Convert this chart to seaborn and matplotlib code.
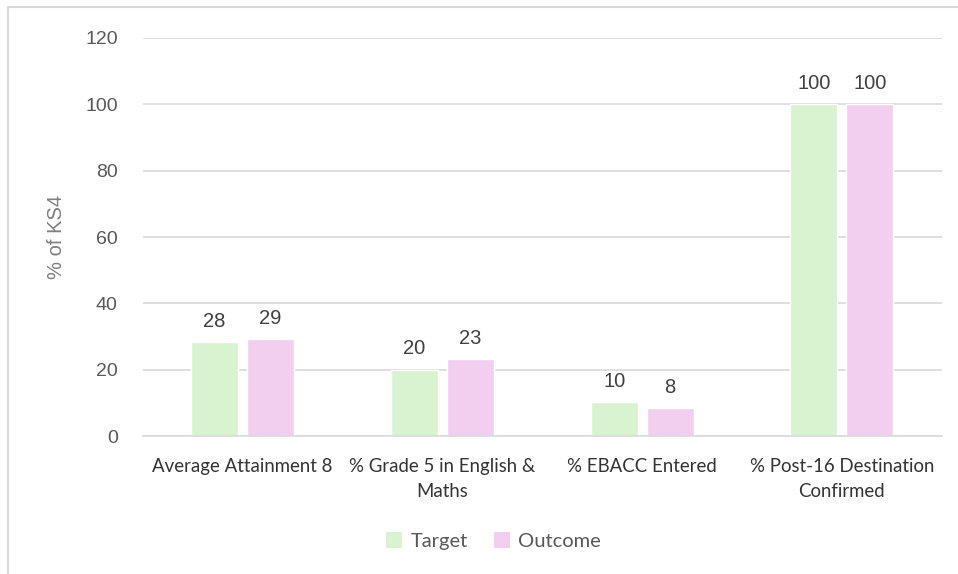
import matplotlib
matplotlib.use("Agg")
import matplotlib.pyplot as plt
import seaborn as sns
import pandas as pd
from matplotlib.lines import Line2D
from matplotlib.patches import Patch

categories = ["Average Attainment 8", "% Grade 5 in English &\nMaths",
              "% EBACC Entered", "% Post-16 Destination\nConfirmed"]
target = [28.4, 20.1, 10.2, 100]
outcome = [29.2, 23.2, 8.4, 100]
series = ["Target", "Outcome"]
colors = ["#D9F2D0", "#F2CEEF"]
yticks = [0, 20, 40, 60, 80, 100, 120]

df = pd.DataFrame({
    "category": categories * 2,
    "value": target + outcome,
    "series": [series[0]] * len(categories) + [series[1]] * len(categories),
})

sns.set_theme(style="white")
plt.rcParams["font.family"] = ["Liberation Sans", "DejaVu Sans"]

fig = plt.figure(figsize=(9.58, 5.74), dpi=100)
ax = fig.add_axes([0.149, 0.240, 0.834, 0.694])

sns.barplot(data=df, x="category", y="value", hue="series", order=categories,
            hue_order=series, palette=colors, width=0.56, gap=0.16,
            saturation=1, errorbar=None, ax=ax, legend=False)

ax.set_ylim(0, 120)
ax.set_yticks(yticks)
ax.set_yticklabels([str(t) for t in yticks], fontsize=14, color="#595959")
ax.yaxis.grid(True, color="#D9D9D9", linewidth=1.2)
ax.set_axisbelow(True)
for s in ["top", "right", "left"]:
    ax.spines[s].set_visible(False)
ax.spines["bottom"].set_color("#D9D9D9")
ax.spines["bottom"].set_linewidth(1.2)
ax.tick_params(axis="both", length=0)
ax.tick_params(axis="y", pad=18)
ax.tick_params(axis="x", pad=16)
ax.set_xlabel("")
ax.set_ylabel("% of KS4", fontsize=14.5, color="#7F7F7F", labelpad=14)
for lbl in ax.get_xticklabels():
    lbl.set_fontfamily(["Lato", "DejaVu Sans"])
    lbl.set_fontsize(13.4)
    lbl.set_color("#333333")
    lbl.set_linespacing(1.55)

for cont in ax.containers:
    ax.bar_label(cont, labels=[f"{v:.0f}" for v in cont.datavalues],
                 padding=8, fontsize=14.5, color="#404040")

handles = [Patch(facecolor=c, edgecolor="none") for c in colors]
fig.legend(handles, series, loc="center", bbox_to_anchor=(0.515, 0.057),
           ncol=2, frameon=False, handlelength=0.8, handleheight=0.8,
           handletextpad=0.4, columnspacing=1.3,
           prop={"family": ["Lato", "DejaVu Sans"], "size": 14.5},
           labelcolor="#595959")

# outer border (top and left visible)
fig.add_artist(Line2D([0.0085, 1.0], [0.988, 0.988], transform=fig.transFigure,
                      color="#D9D9D9", linewidth=1.5))
fig.add_artist(Line2D([0.0085, 0.0085], [0.0, 0.988], transform=fig.transFigure,
                      color="#D9D9D9", linewidth=1.5))

fig.savefig("out.png", dpi=100)
